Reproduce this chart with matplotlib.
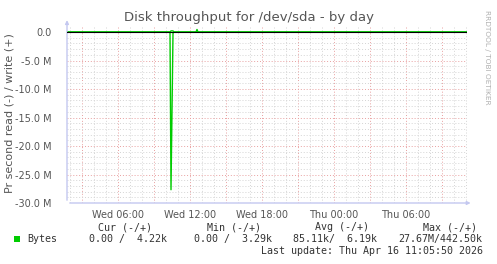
import numpy as np
import pandas as pd
import matplotlib
matplotlib.use("Agg")
import matplotlib.pyplot as plt
import matplotlib.dates as mdates
from matplotlib.ticker import FuncFormatter, MultipleLocator
from matplotlib.patches import Rectangle

# read (-) and write (+) throughput, bytes per second
read_times = ["2026-04-15 01:45", "2026-04-15 10:20", "2026-04-15 10:25",
              "2026-04-15 10:35", "2026-04-15 10:40", "2026-04-16 11:05"]
read_vals = [0, 0, -27.67e6, -0.2e6, 0, 0]

write_times = ["2026-04-15 01:45", "2026-04-15 10:20", "2026-04-15 10:25",
               "2026-04-15 10:35", "2026-04-15 10:40", "2026-04-15 12:30",
               "2026-04-15 12:35", "2026-04-15 12:40", "2026-04-16 11:05"]
write_vals = [0, 0, 0.2e6, 0.2e6, 0, 0, 442.5e3, 0, 0]

legend_heads = ["Cur (-/+)", "Min (-/+)", "Avg (-/+)", "Max (-/+)"]
legend_vals = ["0.00 /  4.22k", "0.00 /  3.29k", "85.11k/  6.19k", "27.67M/442.50k"]

W, H = 497, 264
fig = plt.figure(figsize=(W / 100, H / 100), dpi=100)
fig.patch.set_facecolor("white")

def fx(px):
    return px / W

def fy(py):
    return 1 - py / H

ax = fig.add_axes([fx(67), fy(203), fx(467) - fx(67), (203 - 27) / H])
ax.set_facecolor("white")

green = "#00cc00"
rt = pd.to_datetime(read_times)
wt = pd.to_datetime(write_times)
ax.plot(rt, read_vals, color=green, lw=1.0, zorder=3)
ax.plot(wt, write_vals, color=green, lw=1.0, zorder=3)
ax.axhline(0, color="black", lw=0.8, zorder=4)

ax.set_xlim(pd.Timestamp("2026-04-15 01:45"), pd.Timestamp("2026-04-16 11:05"))
ax.set_ylim(-30e6, 0.88e6)

ax.xaxis.set_major_locator(mdates.HourLocator(byhour=range(0, 24, 3)))
ax.xaxis.set_minor_locator(mdates.HourLocator())

def xfmt(v, pos):
    d = mdates.num2date(v)
    if d.hour % 6:
        return ""
    return d.strftime("%a %H:%M")

ax.xaxis.set_major_formatter(FuncFormatter(xfmt))
ax.yaxis.set_major_locator(MultipleLocator(5e6))
ax.yaxis.set_minor_locator(MultipleLocator(1e6))

def yfmt(v, pos):
    if abs(v) < 1:
        return "0.0"
    return "%.1f M" % (v / 1e6)

ax.yaxis.set_major_formatter(FuncFormatter(yfmt))

ax.grid(which="minor", color="#d4d4d4", linestyle=(0, (1, 2)), lw=0.7)
ax.grid(which="major", color="#e8a0a0", linestyle=(0, (1, 2)), lw=0.7)
ax.set_axisbelow(True)
ax.tick_params(which="both", length=0, labelsize=7, labelcolor="#555555")
ax.tick_params(axis="x", pad=5)
ax.tick_params(axis="y", pad=11)
for s in ax.spines.values():
    s.set_visible(False)

axis_col = "#c4c8f0"
ax.annotate("", xy=(0, 1.055), xytext=(0, 0), xycoords="axes fraction",
            arrowprops=dict(arrowstyle="-|>", color=axis_col, lw=1, mutation_scale=5))
ax.annotate("", xy=(1.016, 0), xytext=(0, 0), xycoords="axes fraction",
            arrowprops=dict(arrowstyle="-|>", color=axis_col, lw=1, mutation_scale=5))

fig.text(fx(10), fy(113), "Pr second read (-) / write (+)", rotation=90, ha="center",
         va="center", fontsize=8, color="#555555")
fig.text(0.5, fy(18), "Disk throughput for /dev/sda - by day", ha="center", va="center",
         fontsize=9.5, color="#555555")
fig.text(fx(487), fy(57), "RRDTOOL / TOBI OETIKER", rotation=270, ha="center", va="center",
         fontsize=5.3, color="#b0b0b0")

mono = dict(family="DejaVu Sans Mono", fontsize=7.2, color="#333333", va="center")
head_x = [98, 207, 315, 423]
val_x = [89, 194, 293, 398]
for hx, t in zip(head_x, legend_heads):
    fig.text(fx(hx), fy(227), t, ha="left", **mono)
for vx, t in zip(val_x, legend_vals):
    fig.text(fx(vx), fy(239), t, ha="left", **mono)
fig.text(fx(27), fy(239), "Bytes", ha="left", **mono)
fig.patches.append(Rectangle((fx(14), fy(242)), fx(6), 6 / H, transform=fig.transFigure,
                             facecolor=green, edgecolor="none"))
fig.text(fx(483), fy(251), "Last update: Thu Apr 16 11:05:50 2026", ha="right", **mono)

fig.savefig("out.png", dpi=100)
